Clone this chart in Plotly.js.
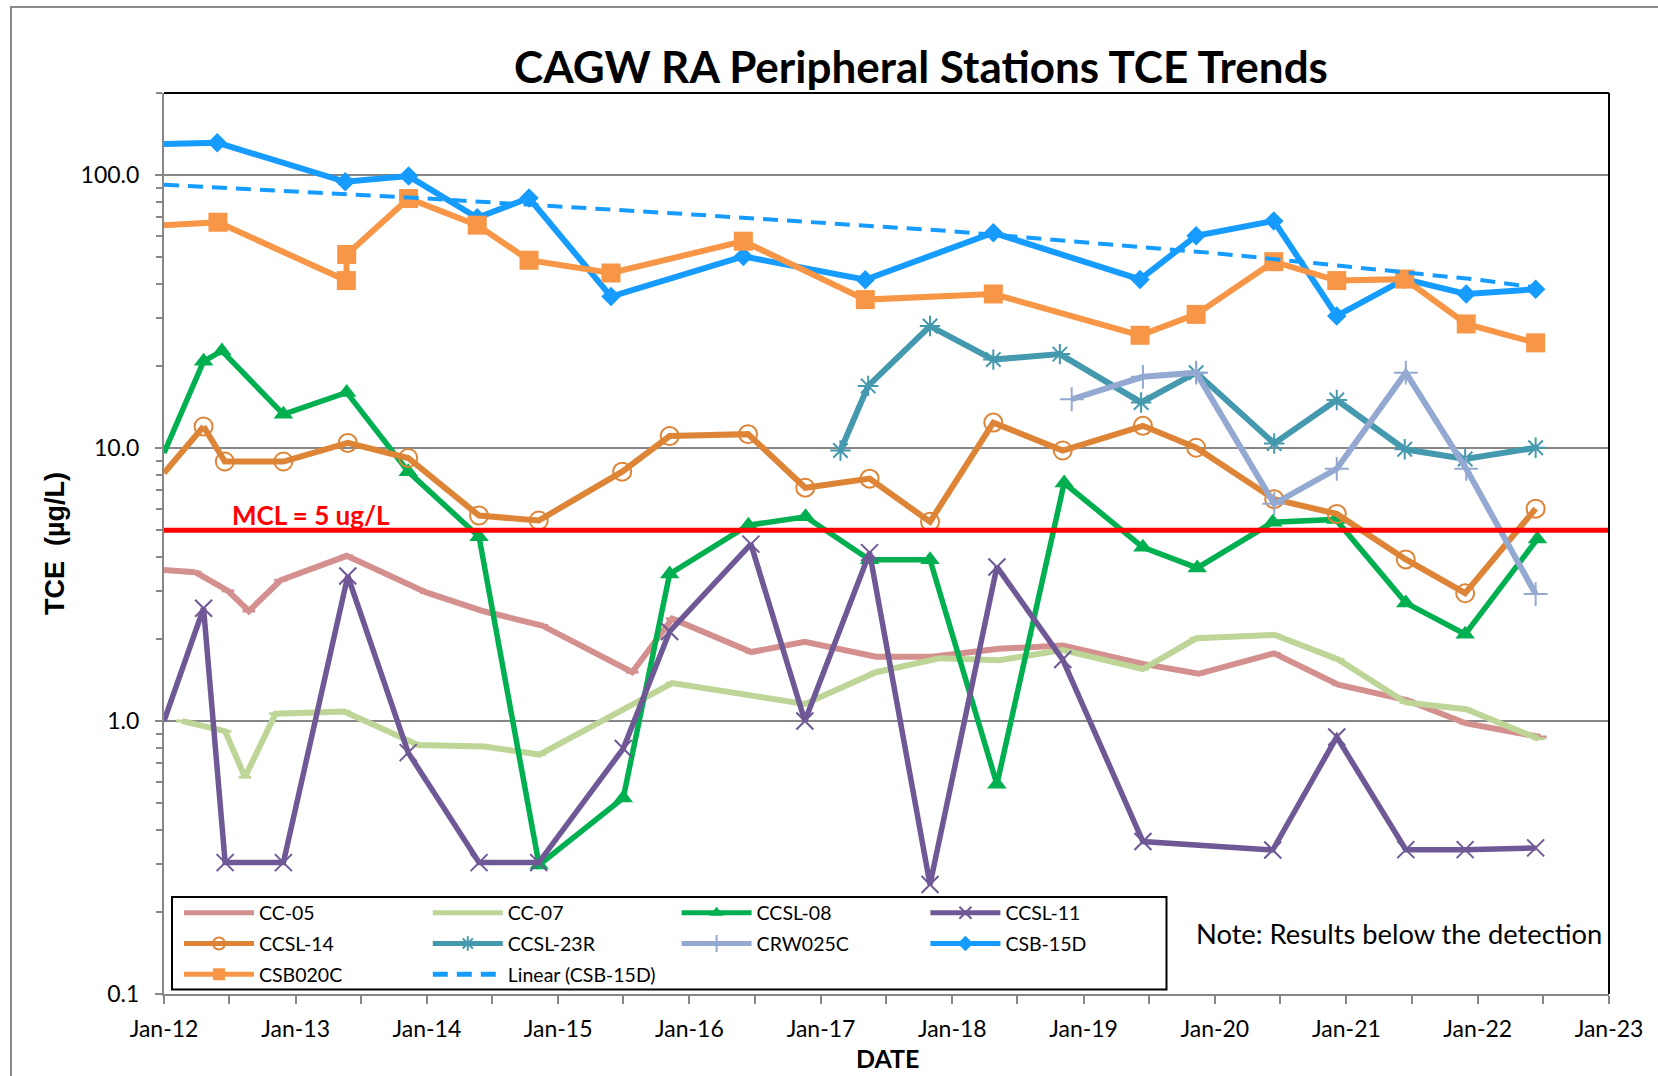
<!DOCTYPE html>
<html>
<head>
<meta charset="utf-8">
<script src="https://cdn.plot.ly/plotly-3.0.1.min.js"></script>
<style>
html,body{margin:0;padding:0;overflow:hidden;background:#ffffff;}
#frame{position:absolute;left:10px;top:6px;width:1720px;height:1130px;border:2px solid #8a8a8a;box-sizing:border-box;}
#chart{position:absolute;left:0;top:0;width:1658px;height:1076px;}
</style>
</head>
<body>
<div id="frame"></div>
<div id="chart"></div>
<script>
// ---------------- DATA ----------------
const xStart = '2012-01-01';
const xEnd = '2023-01-01';

const xTickVals = ['2012-01-01','2012-07-01','2013-01-01','2013-07-01','2014-01-01','2014-07-01',
  '2015-01-01','2015-07-01','2016-01-01','2016-07-01','2017-01-01','2017-07-01','2018-01-01',
  '2018-07-01','2019-01-01','2019-07-01','2020-01-01','2020-07-01','2021-01-01','2021-07-01',
  '2022-01-01','2022-07-01','2023-01-01'];
const xTickText = ['Jan-12','','Jan-13','','Jan-14','','Jan-15','','Jan-16','','Jan-17','',
  'Jan-18','','Jan-19','','Jan-20','','Jan-21','','Jan-22','','Jan-23'];

const yTickVals = [0.1, 1, 10, 100];
const yTickText = ['0.1', '1.0', '10.0', '100.0'];
const yMinorVals = [0.2,0.3,0.4,0.5,0.6,0.7,0.8,0.9,2,3,4,5,6,7,8,9,20,30,40,50,60,70,80,90];
const yTopVal = 200;

const mclValue = 5;

// CC-05
const cc05Edge = 3.58;
const cc05Dates = ['2012-03-28','2012-06-27','2012-08-24','2012-11-20','2013-05-23','2013-12-30',
  '2014-06-10','2014-11-17','2015-07-26','2015-11-14','2016-06-21','2016-11-17','2017-06-03',
  '2017-11-06','2018-05-10','2018-11-04','2019-06-15','2019-11-17','2020-06-14','2020-12-09',
  '2021-06-20','2021-11-30','2022-06-24'];
const cc05Values = [3.51,3.0,2.53,3.28,4.03,2.96,2.52,2.24,1.51,2.37,1.79,1.95,1.72,1.72,1.84,
  1.89,1.62,1.49,1.77,1.36,1.19,0.98,0.874];

// CC-07
const cc07Dates = ['2012-02-21','2012-06-19','2012-08-13','2012-11-06','2013-05-16','2013-12-08',
  '2014-06-10','2014-11-10','2015-11-14','2016-11-17','2017-06-03','2017-11-28','2018-05-10',
  '2018-11-04','2019-06-15','2019-11-10','2020-06-14','2020-12-09','2021-06-15','2021-11-30',
  '2022-06-19'];
const cc07Values = [1.0,0.918,0.623,1.064,1.083,0.817,0.807,0.754,1.378,1.155,1.51,1.70,1.67,
  1.82,1.55,2.01,2.07,1.68,1.17,1.105,0.861];

// CCSL-08
const ccsl08Edge = 9.6;
const ccsl08Dates = ['2012-04-20','2012-06-10','2012-11-28','2013-05-23','2013-11-10','2014-05-26',
  '2014-11-09','2015-07-01','2015-11-07','2016-06-13','2016-11-19','2017-05-16','2017-10-31',
  '2018-05-05','2018-11-08','2019-06-15','2019-11-13','2020-06-10','2020-12-02','2021-06-15',
  '2021-11-27','2022-06-16'];
const ccsl08Values = [20.8,22.7,13.3,16.0,8.2,4.73,0.297,0.523,3.46,5.22,5.6,3.9,3.9,0.587,7.45,
  4.33,3.64,5.35,5.48,2.71,2.08,4.65];

// CCSL-11
const ccsl11Edge = 1.0;
const ccsl11Dates = ['2012-04-20','2012-06-19','2012-11-28','2013-05-26','2013-11-10','2014-05-26',
  '2014-11-08','2015-07-01','2015-11-07','2016-06-20','2016-11-17','2017-05-16','2017-10-31',
  '2018-05-05','2018-11-04','2019-06-15','2020-06-10','2020-12-05','2021-06-15','2021-11-27',
  '2022-06-11'];
const ccsl11Values = [2.59,0.303,0.303,3.4,0.766,0.303,0.303,0.793,2.13,4.45,1.0,4.14,0.252,3.67,
  1.68,0.362,0.337,0.874,0.338,0.338,0.343];

// CCSL-14
const ccsl14Edge = 8.1;
const ccsl14Dates = ['2012-04-20','2012-06-18','2012-11-28','2013-05-26','2013-11-10','2014-05-26',
  '2014-11-08','2015-06-28','2015-11-07','2016-06-12','2016-11-18','2017-05-16','2017-10-31',
  '2018-04-25','2018-11-04','2019-06-15','2019-11-10','2020-06-14','2020-12-05','2021-06-15',
  '2021-11-27','2022-06-11'];
const ccsl14Values = [12.0,8.93,8.93,10.45,9.2,5.66,5.43,8.2,11.07,11.25,7.16,7.73,5.37,12.4,9.8,
  12.07,10.03,6.5,5.74,3.91,2.94,6.0];

// CCSL-23R
const ccsl23rDates = ['2017-02-24','2017-05-12','2017-10-31','2018-04-25','2018-10-27','2019-06-10',
  '2019-11-10','2020-06-14','2020-12-05','2021-06-12','2021-11-27','2022-06-11'];
const ccsl23rValues = [9.8,16.9,28.0,21.1,22.1,14.7,18.9,10.4,15.0,9.9,9.12,10.03];

// CRW025C
const crw025cDates = ['2018-11-29','2019-06-15','2019-11-10','2020-06-14','2020-12-05','2021-06-15',
  '2021-11-30','2022-06-11'];
const crw025cValues = [15.1,18.25,18.9,6.25,8.4,18.9,8.4,2.92];

// CSB-15D
const csb15dEdge = 130;
const csb15dDates = ['2012-05-28','2013-05-19','2013-11-11','2014-05-21','2014-10-12','2015-05-28',
  '2016-05-30','2017-05-04','2018-04-25','2019-06-07','2019-11-10','2020-06-13','2020-12-05',
  '2021-06-12','2021-11-30','2022-06-11'];
const csb15dValues = [131.5,94.6,99.2,69.8,82.5,35.9,50.4,41.4,61.5,41.5,60.0,68.0,30.5,41.6,36.7,38.2];

// CSB020C
const csb020cEdge = 65.6;
const csb020cDates = ['2012-05-30','2013-05-22','2013-05-23','2013-11-11','2014-05-21','2014-10-12',
  '2015-05-28','2016-05-30','2017-05-04','2018-04-25','2019-06-07','2019-11-10','2020-06-13',
  '2020-12-05','2021-06-12','2021-11-30','2022-06-11'];
const csb020cValues = [67.2,41.1,51.2,82.1,65.6,48.8,43.8,57.3,35.0,36.7,25.9,30.9,48.2,41.1,41.6,28.5,24.3];

// Linear (CSB-15D) trendline
const trendDates = ['2012-01-01','2014-01-01','2016-01-01','2018-01-01','2020-01-01','2022-01-01','2022-06-11'];
const trendValues = [92.3,82.1,71.9,62.3,51.8,41.4,38.8];

// ---------------- LAYOUT HELPERS ----------------
const W = 1658, H = 1076;
const M = {l: 164, r: 49, t: 93, b: 82};
const PW = W - M.l - M.r, PH = H - M.t - M.b;
const px = x => (x - M.l) / PW;
const py = y => (M.t + PH - y) / PH;
const FONT = 'Lato, "Open Sans", sans-serif';
const AXIS_GRAY = '#878787';

function series(name, dates, values, color, width, symbol, msize, mlw, legendId) {
  return {
    type: 'scatter', mode: 'lines+markers', name: name, x: dates, y: values,
    legend: legendId, legendgroup: name,
    line: {color: color, width: width},
    marker: {symbol: symbol, size: msize, color: color, line: {color: color, width: mlw}},
    cliponaxis: true, hoverinfo: 'skip'
  };
}
function edge(name, edgeVal, dates, values, color, width, legendId) {
  return {
    type: 'scatter', mode: 'lines', name: name + ' edge', x: [xStart, dates[0]], y: [edgeVal, values[0]],
    legend: legendId, legendgroup: name, showlegend: false,
    line: {color: color, width: width}, hoverinfo: 'skip'
  };
}

const C = {
  cc05: '#D4908F', cc07: '#BDD597', ccsl08: '#00B050', ccsl11: '#6F5896', ccsl14: '#DD8436',
  ccsl23r: '#4599AE', crw025c: '#94A9D2', csb15d: '#169BFF', csb020c: '#F79646'
};
const LW = 6;

const traces = [
  edge('CC-05', cc05Edge, cc05Dates, cc05Values, C.cc05, 6, 'legend'),
  series('CC-05', cc05Dates, cc05Values, C.cc05, 6, 'line-ew-open', 9, 3, 'legend'),
  series('CC-07', cc07Dates, cc07Values, C.cc07, 6, 'line-ew-open', 9, 3, 'legend2'),
  edge('CCSL-08', ccsl08Edge, ccsl08Dates, ccsl08Values, C.ccsl08, 5.5, 'legend3'),
  series('CCSL-08', ccsl08Dates, ccsl08Values, C.ccsl08, 5.5, 'triangle-up', 17, 0, 'legend3'),
  edge('CCSL-11', ccsl11Edge, ccsl11Dates, ccsl11Values, C.ccsl11, 5.5, 'legend4'),
  series('CCSL-11', ccsl11Dates, ccsl11Values, C.ccsl11, 5.5, 'x-thin-open', 17, 2, 'legend4'),
  edge('CCSL-14', ccsl14Edge, ccsl14Dates, ccsl14Values, C.ccsl14, LW, 'legend'),
  series('CCSL-14', ccsl14Dates, ccsl14Values, C.ccsl14, LW, 'circle-open', 18, 2, 'legend'),
  series('CCSL-23R', ccsl23rDates, ccsl23rValues, C.ccsl23r, LW, 'asterisk-open', 17, 2, 'legend2'),
  series('CRW025C', crw025cDates, crw025cValues, C.crw025c, LW, 'cross-thin-open', 17, 2, 'legend3'),
  edge('CSB-15D', csb15dEdge, csb15dDates, csb15dValues, C.csb15d, LW, 'legend4'),
  series('CSB-15D', csb15dDates, csb15dValues, C.csb15d, LW, 'diamond', 15, 0, 'legend4'),
  edge('CSB020C', csb020cEdge, csb020cDates, csb020cValues, C.csb020c, LW, 'legend'),
  series('CSB020C', csb020cDates, csb020cValues, C.csb020c, LW, 'square', 19, 0, 'legend'),
  {
    type: 'scatter', mode: 'lines', name: 'Linear (CSB-15D)', x: trendDates, y: trendValues,
    legend: 'legend2', legendgroup: 'Linear (CSB-15D)',
    line: {color: C.csb15d, width: 4, dash: '15px,9px'}, hoverinfo: 'skip'
  },
  {
    type: 'scatter', mode: 'lines', name: 'MCL', x: [xStart, xEnd], y: [mclValue, mclValue],
    showlegend: false, line: {color: '#FF0000', width: 5}, hoverinfo: 'skip'
  }
];

const legendBase = {
  bgcolor: 'rgba(0,0,0,0)', borderwidth: 0, orientation: 'v',
  font: {family: FONT, size: 19.5, color: '#000'}, itemsizing: 'constant',
  itemwidth: 70, tracegroupgap: 2.45, xanchor: 'left', yanchor: 'top', y: py(893.5),
  itemclick: false, itemdoubleclick: false
};

const tickFont = {family: FONT, size: 23, color: '#000'};

const layout = {
  width: W, height: H, margin: M,
  paper_bgcolor: 'rgba(0,0,0,0)', plot_bgcolor: 'rgba(0,0,0,0)',
  showlegend: true,
  title: {
    text: 'CAGW RA Peripheral Stations TCE Trends',
    font: {family: FONT, size: 44, color: '#000', weight: 'bold'},
    xref: 'container', x: 921 / W, xanchor: 'center',
    yref: 'container', y: 1 - 68 / H, yanchor: 'middle'
  },
  xaxis: {
    type: 'date', range: [xStart, xEnd], tickmode: 'array', tickvals: xTickVals, ticktext: xTickText,
    ticks: 'outside', ticklen: 8, tickwidth: 2, tickcolor: AXIS_GRAY,
    showline: true, linecolor: AXIS_GRAY, linewidth: 2, showgrid: false, zeroline: false,
    tickfont: tickFont, ticklabelstandoff: 5, fixedrange: true
  },
  xaxis2: {
    type: 'date', range: [xStart, xEnd], overlaying: 'x', anchor: 'y', side: 'bottom',
    tickmode: 'array', tickvals: xTickVals, ticks: 'inside', ticklen: 4, tickwidth: 2, tickcolor: AXIS_GRAY,
    showticklabels: false, showline: false, showgrid: false, zeroline: false, fixedrange: true
  },
  yaxis: {
    type: 'log', range: [-1, Math.log10(yTopVal)], tickmode: 'array', tickvals: yTickVals, ticktext: yTickText,
    ticks: 'outside', ticklen: 7, tickwidth: 2, tickcolor: AXIS_GRAY,
    showline: true, linecolor: AXIS_GRAY, linewidth: 2,
    showgrid: true, gridcolor: '#868686', gridwidth: 2, zeroline: false,
    tickfont: tickFont, ticklabelstandoff: 11, fixedrange: true,
    minor: {tickmode: 'array', tickvals: yMinorVals.concat([yTopVal]), ticks: 'outside', ticklen: 6,
            tickwidth: 2, tickcolor: AXIS_GRAY, showgrid: false}
  },
  yaxis2: {
    type: 'log', range: [-1, Math.log10(yTopVal)], overlaying: 'y', anchor: 'x', side: 'left',
    tickmode: 'array', tickvals: yMinorVals, ticks: 'inside', ticklen: 6, tickwidth: 2, tickcolor: AXIS_GRAY,
    showticklabels: false, showline: false, showgrid: false, zeroline: false, fixedrange: true
  },
  legend: Object.assign({}, legendBase, {x: px(179)}),
  legend2: Object.assign({}, legendBase, {x: px(427.8)}),
  legend3: Object.assign({}, legendBase, {x: px(676.6)}),
  legend4: Object.assign({}, legendBase, {x: px(925.4)}),
  shapes: [
    {type: 'line', xref: 'paper', yref: 'paper', x0: 0, x1: 1, y0: 1, y1: 1, line: {color: '#000', width: 2}},
    {type: 'line', xref: 'paper', yref: 'paper', x0: 1, x1: 1, y0: 0, y1: 1, line: {color: '#000', width: 2}},
    {type: 'rect', xref: 'paper', yref: 'paper', x0: px(172), x1: px(1166.5), y0: py(989.5), y1: py(897),
     fillcolor: '#ffffff', line: {color: '#000', width: 2}}
  ],
  annotations: [
    {text: 'TCE\u00a0\u00a0(µg/L)', textangle: -90, showarrow: false, xref: 'paper', yref: 'paper',
     x: px(55), y: py(544), xanchor: 'center', yanchor: 'middle',
     font: {family: '"Liberation Sans", Arial, sans-serif', size: 27, color: '#000', weight: 'bold'}},
    {text: 'DATE', showarrow: false, xref: 'paper', yref: 'paper', x: px(887), y: py(1057.5),
     xanchor: 'center', yanchor: 'middle', font: {family: FONT, size: 25, color: '#000', weight: 'bold'}},
    {text: 'MCL = 5 ug/L', showarrow: false, xref: 'paper', yref: 'paper', x: px(230), y: py(514.8),
     xanchor: 'left', yanchor: 'middle', font: {family: FONT, size: 26, color: '#FF0000', weight: 'bold'}},
    {text: 'Note: Results below the detection', showarrow: false, xref: 'paper', yref: 'paper',
     x: px(1194), y: py(933), xanchor: 'left', yanchor: 'middle',
     font: {family: FONT, size: 27.3, color: '#000'}}
  ]
};

Plotly.newPlot('chart', traces, layout, {displayModeBar: false, staticPlot: true});
</script>
</body>
</html>
